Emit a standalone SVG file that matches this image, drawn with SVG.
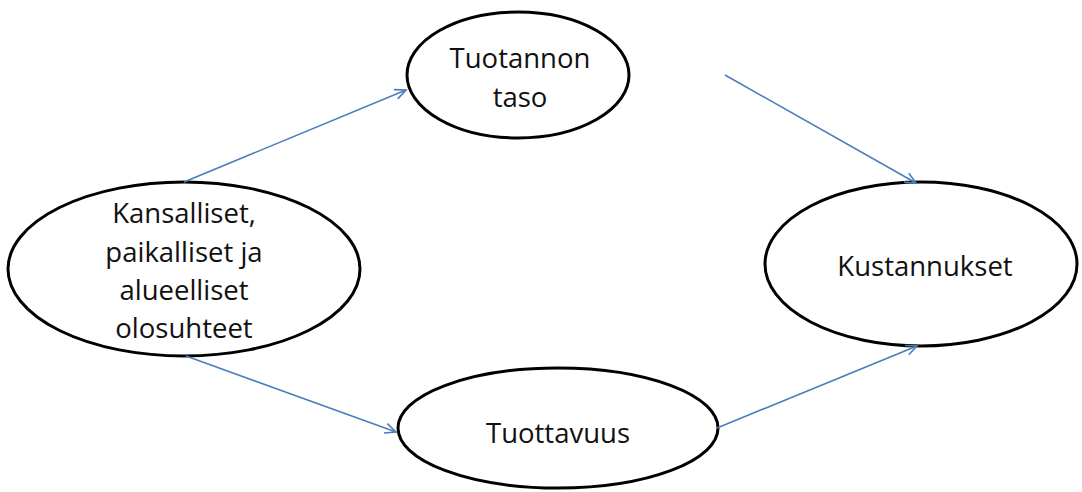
<svg xmlns="http://www.w3.org/2000/svg" width="1082" height="492" viewBox="0 0 1082 492">
<defs>
<marker id="ah" markerWidth="14" markerHeight="12" refX="12" refY="6" orient="auto" markerUnits="userSpaceOnUse">
<path d="M1,1 L12,6 L1,11" fill="none" stroke="#4A7EBB" stroke-width="1.6"/>
</marker>
<style>
.n ellipse{fill:#fff;stroke:#000;stroke-width:3}
.n text{font-family:"Open Sans","Noto Sans",sans-serif;font-size:27.5px;fill:#111;text-anchor:middle}
.c line{stroke:#4A7EBB;stroke-width:1.6;marker-end:url(#ah)}
</style>
</defs>
<rect width="1082" height="492" fill="#fff"/>
<g class="n" id="n-olosuhteet">
<ellipse cx="184" cy="269" rx="176" ry="87"/>
<text x="184" y="223">Kansalliset,</text>
<text x="184" y="262">paikalliset ja</text>
<text x="184" y="300">alueelliset</text>
<text x="184" y="338">olosuhteet</text>
</g>
<g class="n" id="n-tuotannon">
<ellipse cx="518" cy="75" rx="111" ry="63"/>
<text x="520" y="68">Tuotannon</text>
<text x="520" y="107">taso</text>
</g>
<g class="n" id="n-kustannukset">
<ellipse cx="921" cy="264" rx="156" ry="82"/>
<text x="925" y="276">Kustannukset</text>
</g>
<g class="n" id="n-tuottavuus">
<ellipse cx="558" cy="428" rx="160" ry="60"/>
<text x="558" y="443">Tuottavuus</text>
</g>
<g class="c" id="connectors">
<line x1="184" y1="182" x2="406" y2="90"/>
<line x1="725" y1="75" x2="916" y2="183"/>
<line x1="186" y1="356" x2="396" y2="432"/>
<line x1="717" y1="428" x2="917" y2="346"/>
</g>
</svg>
